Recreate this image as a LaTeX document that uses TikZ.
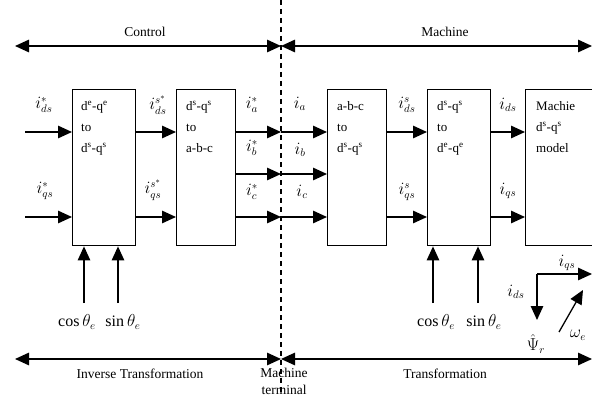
\documentclass[tikz,border=0pt]{standalone}
\usepackage{fontspec}
\setmainfont{Liberation Serif}
\usetikzlibrary{arrows.meta}
\begin{document}
\begin{tikzpicture}[x=1pt,y=-1pt,
  tip/.style={-{Triangle[length=14pt,width=12.5pt]}},
  dtip/.style={{Triangle[length=14pt,width=12.5pt]}-{Triangle[length=14pt,width=12.5pt]}},
  conn/.style={line width=1.3pt, tip},
  span/.style={line width=1.3pt, dtip},
  box/.style={draw, line width=1.4pt, anchor=north west, inner sep=0pt},
  boxtxt/.style={anchor=north west, inner sep=0pt, align=left, font=\fontsize{13}{21}\selectfont},
  lbl/.style={inner sep=0pt, font=\fontsize{13.5}{16}\selectfont},
  mlbl/.style={inner sep=0pt, font=\fontsize{16}{18}\selectfont}
]
\useasboundingbox (0,0) rectangle (592,396);

% divider
\draw[line width=1.3pt, dash pattern=on 5pt off 4pt] (281,0) -- (281,396);

% span arrows
\coordinate (tl) at (15,46); \coordinate (tm) at (281,46); \coordinate (tr) at (592,46);
\coordinate (bl) at (15,359); \coordinate (bm) at (281,359); \coordinate (br) at (592,359);
\draw[span] (tl) -- (tm);
\draw[span] (tm) -- (tr);
\draw[span] (bl) -- (bm);
\draw[span] (bm) -- (br);
\node[lbl] (tcontrol) at (145,32) {Control};
\node[lbl] (tmachine) at (445,32) {Machine};
\node[lbl] (tinv) at (140,374) {Inverse Transformation};
\node[lbl, align=center, font=\fontsize{13.5}{17}\selectfont] (tterm) at (284,381) {Machine\\terminal};
\node[lbl] (ttrans) at (445,374) {Transformation};

% boxes
\node[box, minimum width=63pt, minimum height=156pt] (b1) at (72,89) {};
\node[box, minimum width=59pt, minimum height=156pt] (b2) at (176,89) {};
\node[box, minimum width=59pt, minimum height=156pt] (b3) at (327,89) {};
\node[box, minimum width=63pt, minimum height=156pt] (b4) at (427,89) {};
\node[box, minimum width=67pt, minimum height=156pt] (b5) at (525,89) {};

\node[boxtxt] (t1) at (81,101) {d\textsuperscript{e}-q\textsuperscript{e}\\to\\d\textsuperscript{s}-q\textsuperscript{s}};
\node[boxtxt] (t2) at (186,101) {d\textsuperscript{s}-q\textsuperscript{s}\\to\\a-b-c};
\node[boxtxt] (t3) at (337,101) {a-b-c\\to\\d\textsuperscript{s}-q\textsuperscript{s}};
\node[boxtxt] (t4) at (437,101) {d\textsuperscript{s}-q\textsuperscript{s}\\to\\d\textsuperscript{e}-q\textsuperscript{e}};
\node[boxtxt] (t5) at (536,101) {Machie\\d\textsuperscript{s}-q\textsuperscript{s}\\model};

% inputs
\coordinate (in1) at (25,132); \coordinate (in2) at (25,217);
\draw[conn] (in1) -- (b1.west |- in1);
\draw[conn] (in2) -- (b1.west |- in2);
\draw[conn] (b1.east |- in1) -- (b2.west |- in1);
\draw[conn] (b1.east |- in2) -- (b2.west |- in2);

% three phase
\coordinate (pa) at (281,132); \coordinate (pb) at (281,174); \coordinate (pc) at (281,217);
\foreach \p in {pa,pb,pc}{
  \draw[conn] (b2.east |- \p) -- (\p);
  \draw[conn] (\p) -- (b3.west |- \p);
}
\draw[conn] (b3.east |- in1) -- (b4.west |- in1);
\draw[conn] (b3.east |- in2) -- (b4.west |- in2);
\draw[conn] (b4.east |- in1) -- (b5.west |- in1);
\draw[conn] (b4.east |- in2) -- (b5.west |- in2);

% theta inputs
\coordinate (c1) at (84,303); \coordinate (s1) at (118,303);
\coordinate (c2) at (433,303); \coordinate (s2) at (478,303);
\draw[conn] (c1) -- (c1 |- b1.south);
\draw[conn] (s1) -- (s1 |- b1.south);
\draw[conn] (c2) -- (c2 |- b4.south);
\draw[conn] (s2) -- (s2 |- b4.south);
\node[mlbl] (lc1) at (77,322) {$\cos\theta_e$};
\node[mlbl] (ls1) at (123,322) {$\sin\theta_e$};
\node[mlbl] (lc2) at (436,322) {$\cos\theta_e$};
\node[mlbl] (ls2) at (484,322) {$\sin\theta_e$};

% signal labels
\node[mlbl] (l1) at (44,105) {$i^*_{ds}$};
\node[mlbl] (l2) at (45,191) {$i^*_{qs}$};
\node[mlbl] (l3) at (158,105) {$i^{s^*}_{ds}$};
\node[mlbl] (l4) at (153,190) {$i^{s^*}_{qs}$};
\node[mlbl] (l5) at (252,105) {$i^*_{a}$};
\node[mlbl] (l6) at (252,148) {$i^*_{b}$};
\node[mlbl] (l7) at (252,192) {$i^*_{c}$};
\node[mlbl] (l8) at (300,104) {$i_{a}$};
\node[mlbl] (l9) at (300,150) {$i_{b}$};
\node[mlbl] (l10) at (302,192) {$i_{c}$};
\node[mlbl] (l11) at (407,105) {$i^s_{ds}$};
\node[mlbl] (l12) at (407,192) {$i^s_{qs}$};
\node[mlbl] (l13) at (508,105) {$i_{ds}$};
\node[mlbl] (l14) at (508,191) {$i_{qs}$};

% axes
\coordinate (ax) at (537,274); \coordinate (axq) at (592,274); \coordinate (axd) at (537,320);
\draw[conn] (ax) -- (axq);
\draw[conn] (ax) -- (axd);
\coordinate (w0) at (559,332); \coordinate (w1) at (583,290);
\draw[conn] (w0) -- (w1);
\node[mlbl] (lq) at (567,263) {$i_{qs}$};
\node[mlbl] (ld) at (516,292) {$i_{ds}$};
\node[mlbl] (lpsi) at (536,344) {$\hat{\Psi}_r$};
\node[mlbl] (lw) at (578,335) {$\omega_e$};
\end{tikzpicture}
\end{document}
